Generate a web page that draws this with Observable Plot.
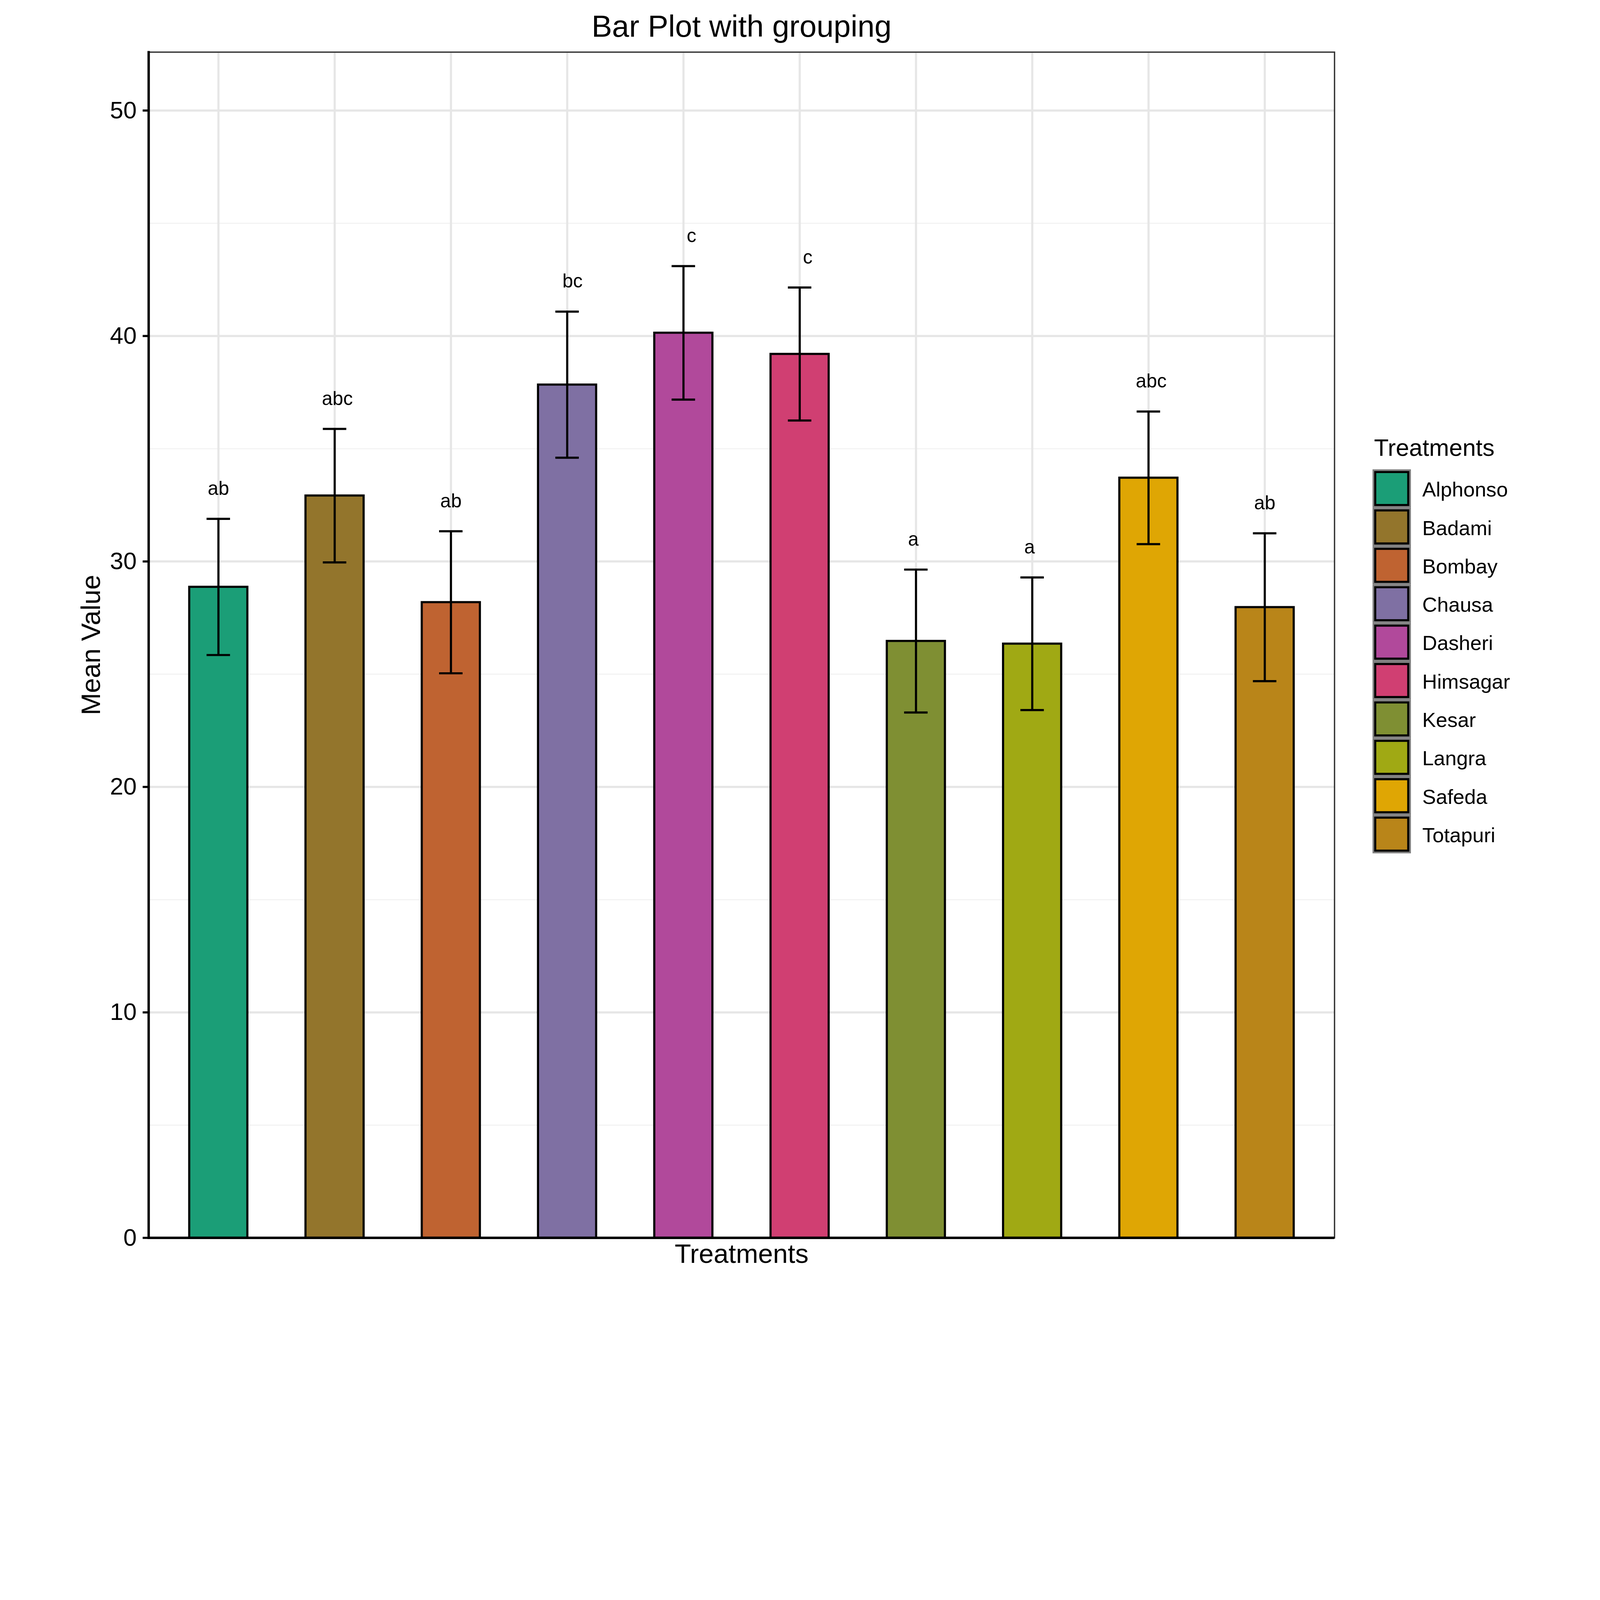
<!DOCTYPE html>
<html>
<head>
<meta charset="utf-8">
<script src="https://cdn.jsdelivr.net/npm/d3@7"></script>
<script src="https://cdn.jsdelivr.net/npm/@observablehq/plot@0.6"></script>
<style>
  html, body { margin: 0; padding: 0; background: #ffffff; overflow: hidden; }
  #outer { position: relative; width: 6000px; height: 4800px; overflow: hidden; background: #ffffff; }
  #wrap { position: absolute; left: 0; top: 0; width: 6000px; height: 4800px; background: #ffffff; font-family: "Liberation Sans", Arial, Helvetica, sans-serif; transform-origin: 0 0; }
  #main { position: absolute; left: 0; top: 0; }
  #legend { position: absolute; left: 5147px; top: 1600px; }
</style>
</head>
<body>
<div id="outer"><div id="wrap"><div id="main"></div><div id="legend"></div></div></div>
<script>
// ---- data ----
const treatments = ["Alphonso", "Badami", "Bombay", "Chausa", "Dasheri", "Himsagar", "Kesar", "Langra", "Safeda", "Totapuri"];
const means = [28.87, 32.92, 28.19, 37.84, 40.14, 39.20, 26.47, 26.35, 33.71, 27.97];
const se = [3.02, 2.96, 3.15, 3.24, 2.96, 2.95, 3.17, 2.94, 2.94, 3.28];
const letters = ["ab ", "abc", "ab ", " bc", "  c", "  c", "a  ", "a  ", "abc", "ab "];
const colors = ["#1B9E77", "#93752C", "#BF6331", "#7F70A3", "#B1499B", "#D03F72", "#7F8F33", "#A0A914", "#DFA604", "#B98519"];
const majorTicks = [0, 10, 20, 30, 40, 50];
const minorTicks = [5, 15, 25, 35, 45];
const yDomain = [0, 52.59];
const title = "Bar Plot with grouping";
const xTitle = "Treatments";
const yTitle = "Mean Value";
const legendTitle = "Treatments";

const rows = treatments.map((t, i) => ({treatment: t, mean: means[i], se: se[i], letter: letters[i]}));
const font = '"Liberation Sans", Arial, Helvetica, sans-serif';
const colorScale = {domain: treatments, range: colors, legend: false};

const main = Plot.plot({
  width: 6000,
  height: 4800,
  marginLeft: 557,
  marginRight: 996,
  marginTop: 195,
  marginBottom: 158.5,
  style: {fontFamily: font, color: "black", background: "white", overflow: "visible", maxWidth: "none"},
  x: {domain: treatments, paddingInner: 0.5, paddingOuter: 0.35, round: false, axis: null},
  y: {domain: yDomain, axis: null},
  color: colorScale,
  marks: [
    Plot.gridY(minorTicks, {stroke: "#f2f2f2", strokeOpacity: 1, strokeWidth: 4}),
    Plot.gridY(majorTicks, {stroke: "#e6e6e6", strokeOpacity: 1, strokeWidth: 8}),
    Plot.gridX({stroke: "#e6e6e6", strokeOpacity: 1, strokeWidth: 8}),
    Plot.frame({stroke: "#333333", strokeWidth: 5}),
    Plot.barY(rows, {x: "treatment", y: "mean", fill: "treatment", stroke: "black", strokeWidth: 8}),
    Plot.ruleX(rows, {x: "treatment", y1: d => d.mean - d.se, y2: d => d.mean + d.se, stroke: "black", strokeWidth: 8}),
    Plot.tickY(rows, {x: "treatment", y: d => d.mean + d.se, stroke: "black", strokeWidth: 8, insetLeft: 65, insetRight: 65}),
    Plot.tickY(rows, {x: "treatment", y: d => d.mean - d.se, stroke: "black", strokeWidth: 8, insetLeft: 65, insetRight: 65}),
    Plot.text(rows, {x: "treatment", y: d => d.mean + d.se, text: d => d.letter.replace(/ /g, "\u00a0"), lineAnchor: "bottom", dy: -90, dx: 10, fontSize: 72, fill: "black"}),
    Plot.ruleY([0], {stroke: "black", strokeWidth: 9}),
    Plot.frame({anchor: "left", stroke: "black", strokeWidth: 9}),
    Plot.axisY({ticks: majorTicks, tickSize: 22, tickPadding: 23, fontSize: 90, strokeWidth: 8, stroke: "black", fill: "black", label: null}),
    Plot.text([title], {frameAnchor: "top", textAnchor: "middle", lineAnchor: "bottom", dy: -58, fontSize: 115, fill: "black"}),
    Plot.text([xTitle], {frameAnchor: "bottom", textAnchor: "middle", lineAnchor: "bottom", dy: 94.5, fontSize: 100, fill: "black"}),
    Plot.text([yTitle], {frameAnchor: "left", textAnchor: "middle", rotate: -90, lineAnchor: "bottom", dx: -183, fontSize: 100, fill: "black"})
  ]
});
document.getElementById("main").appendChild(main);

const legend = Plot.plot({
  width: 700,
  height: 1610,
  marginLeft: 0,
  marginRight: 556,
  marginTop: 160,
  marginBottom: 10,
  style: {fontFamily: font, color: "black", background: "transparent", overflow: "visible", maxWidth: "none"},
  y: {type: "band", domain: treatments, padding: 0, round: false, axis: null},
  color: colorScale,
  marks: [
    Plot.cell(treatments, {y: d => d, fill: "none", stroke: "#7f7f7f", strokeWidth: 6, inset: 3}),
    Plot.cell(treatments, {y: d => d, fill: d => d, stroke: "black", strokeWidth: 8, inset: 10}),
    Plot.text(treatments, {y: d => d, text: d => d, frameAnchor: "left", dx: 186, dy: 5, textAnchor: "start", lineAnchor: "middle", fontSize: 77, fill: "black"}),
    Plot.text([legendTitle], {frameAnchor: "top-left", textAnchor: "start", lineAnchor: "bottom", dx: 5, dy: -51.5, fontSize: 90, fill: "black"})
  ]
});
document.getElementById("legend").appendChild(legend);

// fit the 6000x4800 drawing into the window if the window is smaller
function fit() {
  const w = window.innerWidth || document.documentElement.clientWidth;
  const h = window.innerHeight || document.documentElement.clientHeight;
  let s = Math.min(w / 6000, h / 4800);
  if (!(s > 0) || s >= 1) s = 1;
  const outer = document.getElementById("outer");
  outer.style.width = (6000 * s) + "px";
  outer.style.height = (4800 * s) + "px";
  document.getElementById("wrap").style.transform = s < 1 ? `scale(${s})` : "";
}
fit();
window.addEventListener("resize", fit);
</script>
</body>
</html>
